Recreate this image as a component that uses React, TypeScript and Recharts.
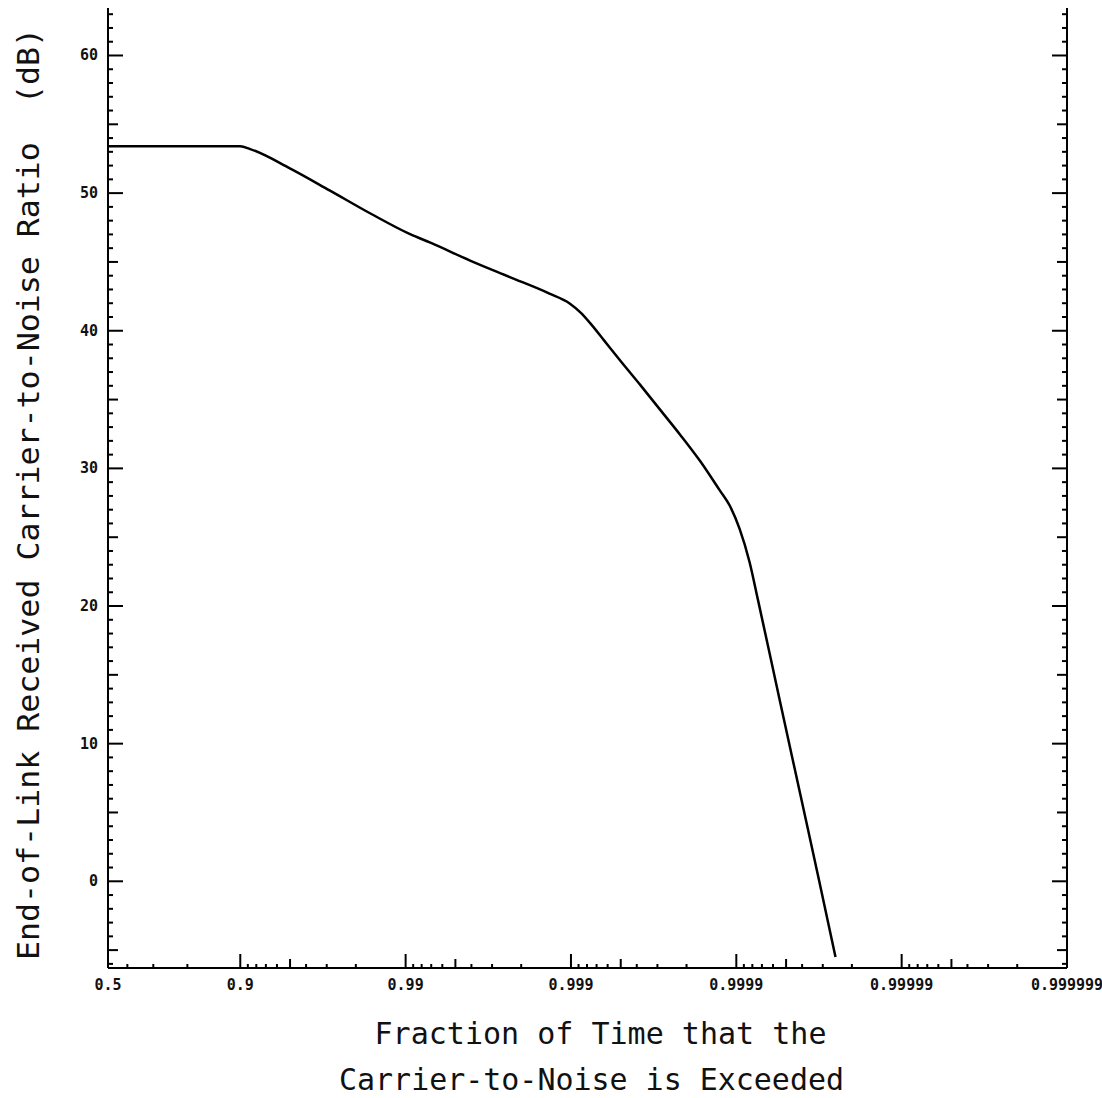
import { LineChart, Line, XAxis, YAxis, Label } from 'recharts';

// x axis is in "decades" of exceedance: u = -log10(1 - p), with 0.5 squeezed in at 0.2
const xTickPos = [0.2, 1, 2, 3, 4, 5, 6];
const xTickLabels = ['0.5', '0.9', '0.99', '0.999', '0.9999', '0.99999', '0.999999'];
const xLowMinor = [0.317, 0.474, 0.68]; // 0.6, 0.7, 0.8
const decadeSteps = [1, 2, 3, 4, 5, 6, 7, 8]; // 0.91 .. 0.98 inside each decade

const yMajor = [0, 10, 20, 30, 40, 50, 60];

// curve
const curveX = [0.2, 1.0, 1.06, 1.3, 1.54, 1.79, 2.03, 2.15, 2.39, 2.63, 2.87, 2.99, 3.06, 3.12, 3.2, 3.3, 3.42, 3.54, 3.66, 3.78, 3.9, 3.96, 4.02, 4.08, 4.13, 4.26, 4.38, 4.5, 4.6];
const curveDb = [53.4, 53.4, 53.2, 51.8, 50.2, 48.5, 47.0, 46.4, 45.1, 43.9, 42.7, 42.0, 41.3, 40.5, 39.3, 37.8, 36.05, 34.25, 32.45, 30.55, 28.4, 27.3, 25.6, 23.2, 20.5, 13.3, 6.7, 0.1, -5.5];

const rows = curveX.map((u, i) => ({ u, db: curveDb[i] }));

type Kind = 'major' | 'mid' | 'minor';
interface TickDef { v: number; kind: Kind; label?: string }

const xTicks: TickDef[] = [];
xTickPos.forEach((v, i) => xTicks.push({ v, kind: 'major', label: xTickLabels[i] }));
xLowMinor.forEach(v => xTicks.push({ v, kind: 'minor' }));
for (let d = 1; d <= 5; d++) {
  decadeSteps.forEach(k => xTicks.push({ v: d - Math.log10(1 - k / 10), kind: k === 5 ? 'mid' : 'minor' }));
}
xTicks.sort((a, b) => a.v - b.v);
const xTickMap = new Map(xTicks.map(t => [t.v, t]));

const yTicks: TickDef[] = [];
for (let v = -6; v <= 63; v++) {
  const major = yMajor.includes(v);
  yTicks.push({ v, kind: major ? 'major' : v % 5 === 0 ? 'mid' : 'minor', label: major ? String(v) : undefined });
}
const yTickMap = new Map(yTicks.map(t => [t.v, t]));

const X_LEN: Record<Kind, number> = { major: 14, mid: 9, minor: 4 };
const Y_LEN: Record<Kind, number> = { major: 15, mid: 10, minor: 5 };

const tickFont = { fontFamily: '"DejaVu Sans Mono", monospace', fontWeight: 700, fontSize: 15, fill: '#111' };
const titleFont = { fontFamily: '"DejaVu Sans Mono", monospace', fontSize: 31, fill: '#111' };

function BottomTick(props: any) {
  const { x, y, payload } = props;
  const t = xTickMap.get(payload.value);
  if (!t) return <g />;
  return (
    <g>
      <line x1={x} x2={x} y1={y} y2={y - X_LEN[t.kind]} stroke="#000" strokeWidth={2} />
      {t.label && <text x={x} y={y + 22} textAnchor="middle" {...tickFont}>{t.label}</text>}
    </g>
  );
}

function TopTick(props: any) {
  const { x, y, payload } = props;
  const t = xTickMap.get(payload.value);
  if (!t) return <g />;
  return <line x1={x} x2={x} y1={y} y2={y + X_LEN[t.kind]} stroke="#000" strokeWidth={2} />;
}

function LeftTick(props: any) {
  const { x, y, payload } = props;
  const t = yTickMap.get(payload.value);
  if (!t) return <g />;
  return (
    <g>
      <line x1={x} x2={x + Y_LEN[t.kind]} y1={y} y2={y} stroke="#000" strokeWidth={2} />
      {t.label && <text x={x - 10} y={y + 5} textAnchor="end" {...tickFont}>{t.label}</text>}
    </g>
  );
}

function RightTick(props: any) {
  const { x, y, payload } = props;
  const t = yTickMap.get(payload.value);
  if (!t) return <g />;
  return <line x1={x} x2={x - Y_LEN[t.kind]} y1={y} y2={y} stroke="#000" strokeWidth={2} />;
}

const X_DOMAIN: [number, number] = [0.2, 6];
const Y_DOMAIN: [number, number] = [-6.3, 63.45];
const axisLine = { stroke: '#000', strokeWidth: 2 };

export default function App() {
  return (
    <div style={{ position: 'absolute', left: 0, top: 0, background: '#fff' }}>
      <LineChart width={1102} height={1098} data={rows} margin={{ top: 8, right: 0, bottom: 0, left: 0 }}>
        <XAxis xAxisId="b" dataKey="u" type="number" orientation="bottom" domain={X_DOMAIN} allowDataOverflow
          ticks={xTicks.map(t => t.v)} interval={0} tickSize={0} tickMargin={0} tickLine={false}
          axisLine={axisLine} tick={BottomTick} height={130}>
          <Label content={(p: any) => {
            const vb = p.viewBox;
            const cx = vb.x + vb.width / 2;
            return (
              <g>
                <text x={cx + 13} y={vb.y + 76} textAnchor="middle" textLength={452} lengthAdjust="spacingAndGlyphs" {...titleFont}>Fraction of Time that the</text>
                <text x={cx + 4} y={vb.y + 122} textAnchor="middle" textLength={505} lengthAdjust="spacingAndGlyphs" {...titleFont}>Carrier-to-Noise is Exceeded</text>
              </g>
            );
          }} />
        </XAxis>
        <XAxis xAxisId="t" type="number" orientation="top" domain={X_DOMAIN} allowDataOverflow
          ticks={xTicks.map(t => t.v)} interval={0} tickSize={0} tickMargin={0} tickLine={false}
          axisLine={axisLine} tick={TopTick} height={0} />
        <YAxis yAxisId="l" type="number" orientation="left" domain={Y_DOMAIN} allowDataOverflow
          ticks={yTicks.map(t => t.v)} interval={0} tickSize={0} tickMargin={0} tickLine={false}
          axisLine={axisLine} tick={LeftTick} width={108}>
          <Label content={(p: any) => {
            const vb = p.viewBox;
            const cx = vb.x + 39;
            const cy = 494;
            return (
              <text x={cx} y={cy} textAnchor="middle" transform={`rotate(-90, ${cx}, ${cy})`}
                textLength={932} lengthAdjust="spacingAndGlyphs" {...titleFont} style={{ whiteSpace: 'pre' }}>
                {'End-of-Link Received Carrier-to-Noise Ratio  (dB)'}
              </text>
            );
          }} />
        </YAxis>
        <YAxis yAxisId="r" type="number" orientation="right" domain={Y_DOMAIN} allowDataOverflow
          ticks={yTicks.map(t => t.v)} interval={0} tickSize={0} tickMargin={0} tickLine={false}
          axisLine={axisLine} tick={RightTick} width={35} />
        <Line xAxisId="b" yAxisId="l" type="monotone" dataKey="db" stroke="#000" strokeWidth={2.5}
          dot={false} isAnimationActive={false} />
      </LineChart>
    </div>
  );
}
